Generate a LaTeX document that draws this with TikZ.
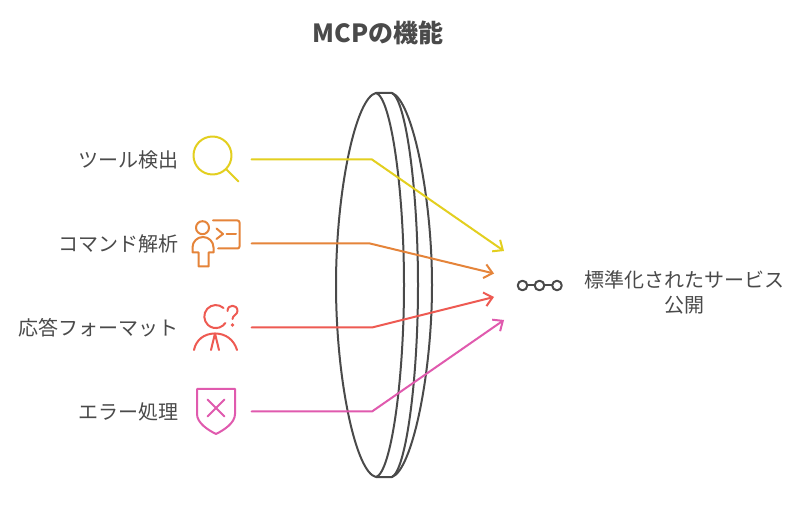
\documentclass[tikz,border=0pt]{standalone}
\usepackage{fontspec}
\setmainfont{Noto Sans CJK JP}
\usetikzlibrary{arrows.meta}
\definecolor{ink}{HTML}{4A4A4A}
\definecolor{cy}{HTML}{E3CF1F}
\definecolor{co}{HTML}{E5843A}
\definecolor{cr}{HTML}{EE5A52}
\definecolor{cp}{HTML}{E05AAE}
\tikzset{
  lbl/.style={text=ink,font=\fontsize{20}{25}\selectfont,inner sep=0pt},
  ttl/.style={text=ink,font=\fontsize{25}{30}\bfseries\selectfont,inner sep=0pt},
  lens/.style={draw=ink,line width=2pt,line join=round},
  icon/.style={line width=2pt,line cap=round,line join=round},
  conn/.style={line width=2pt,line cap=round,line join=miter,-{Straight Barb[length=8pt,width=14pt,line width=2pt]}},
}
\begin{document}
\begin{tikzpicture}[x=1pt,y=-1pt]
\useasboundingbox (0,0) rectangle (798,526);
\fill[white] (0,0) rectangle (798,526);
\node[ttl] (title) at (378,33) {MCPの機能};
% lens
\draw[lens] (376,93) .. controls (356,97) and (336,190) .. (336,285)
  .. controls (336,380) and (356,473) .. (376,477)
  .. controls (391,473) and (404,380) .. (404,285)
  .. controls (404,190) and (391,97) .. (376,93) -- (392,93)
  .. controls (406,100) and (418,190) .. (418,285)
  .. controls (418,380) and (406,470) .. (392,477) -- (376,477);
\draw[lens] (392,93) .. controls (412,100) and (432,195) .. (432,285)
  .. controls (432,375) and (412,470) .. (392,477);
% labels
\node[lbl,anchor=east] (l1) at (179,159.8) {ツール検出};
\node[lbl,anchor=east] (l2) at (179,243.8) {コマンド解析};
\node[lbl,anchor=east] (l3) at (179,327.8) {応答フォーマット};
\node[lbl,anchor=east] (l4) at (179,411.8) {エラー処理};
\node[lbl,align=center] (r) at (684.5,292) {標準化されたサービス\\公開};
% connectors
\coordinate (s1) at (251.5,159.5); \coordinate (b1) at (372,159.5); \coordinate (e1) at (504,251);
\coordinate (s2) at (251.5,243.5); \coordinate (b2) at (370,243.5); \coordinate (e2) at (494,273.5);
\coordinate (s3) at (251.5,327.5); \coordinate (b3) at (372,327.5); \coordinate (e3) at (494,297);
\coordinate (s4) at (251.5,411.5); \coordinate (b4) at (372,411.5); \coordinate (e4) at (504,320);
\draw[conn,draw=cy] (s1) -- (b1) -- (e1);
\draw[conn,draw=co] (s2) -- (b2) -- (e2);
\draw[conn,draw=cr] (s3) -- (b3) -- (e3);
\draw[conn,draw=cp] (s4) -- (b4) -- (e4);
% icon 1
\draw[icon,cy] (212.5,155.5) circle (19);
\draw[icon,cy] (226,169) -- (238.5,181.5);
% icon 2
\draw[icon,co] (202.5,227.7) circle (6.5);
\draw[icon,co] (213,220.5) -- (237.5,220.5) arc[start angle=-90,end angle=0,radius=2] -- (239.5,246.5) arc[start angle=0,end angle=90,radius=2] -- (218,248.5);
\draw[icon,co] (216.5,228.5) -- (223,234) -- (216.5,239);
\draw[icon,co] (226.5,234) -- (236,234);
\draw[icon,co] (192.5,252.5) -- (192.5,247.5) arc[start angle=180,end angle=360,radius=10.5] -- (213.5,252.5) -- (208.5,252.5) -- (208.5,266.5) -- (198.5,266.5) -- (198.5,252.5) -- cycle;
% icon 3
\draw[icon,cr] (223.5,308) arc[start angle=-48,end angle=-326,radius=11.5];
\draw[icon,cr] (227.5,311) .. controls (227.5,304) and (237.5,304) .. (237.5,311) .. controls (237.5,315) and (232.5,315) .. (232.5,319);
\fill[cr] (232.5,325) circle (1.8);
\draw[icon,cr] (194,350) .. controls (196,340) and (204,333.5) .. (215,333.5) .. controls (226,333.5) and (234,340) .. (237,350);
\draw[icon,cr] (215,333.5) -- (211,350);
\draw[icon,cr] (215,333.5) -- (219,350);
% icon 4
\draw[icon,cp] (197,389) -- (235,389) -- (235,414) .. controls (235,423) and (224,430) .. (216,434) .. controls (208,430) and (197,423) .. (197,414) -- cycle;
\draw[icon,cp] (207.5,399.5) -- (224.5,416.5);
\draw[icon,cp] (224.5,399.5) -- (207.5,416.5);
% chain
\draw[icon,ink] (522.5,285.5) circle (4.8);
\draw[icon,ink] (539.5,285.5) circle (4.8);
\draw[icon,ink] (557,285.5) circle (4.8);
\draw[icon,ink] (527.3,285.5) -- (534.7,285.5);
\draw[icon,ink] (544.3,285.5) -- (552.2,285.5);
\end{tikzpicture}
\end{document}
